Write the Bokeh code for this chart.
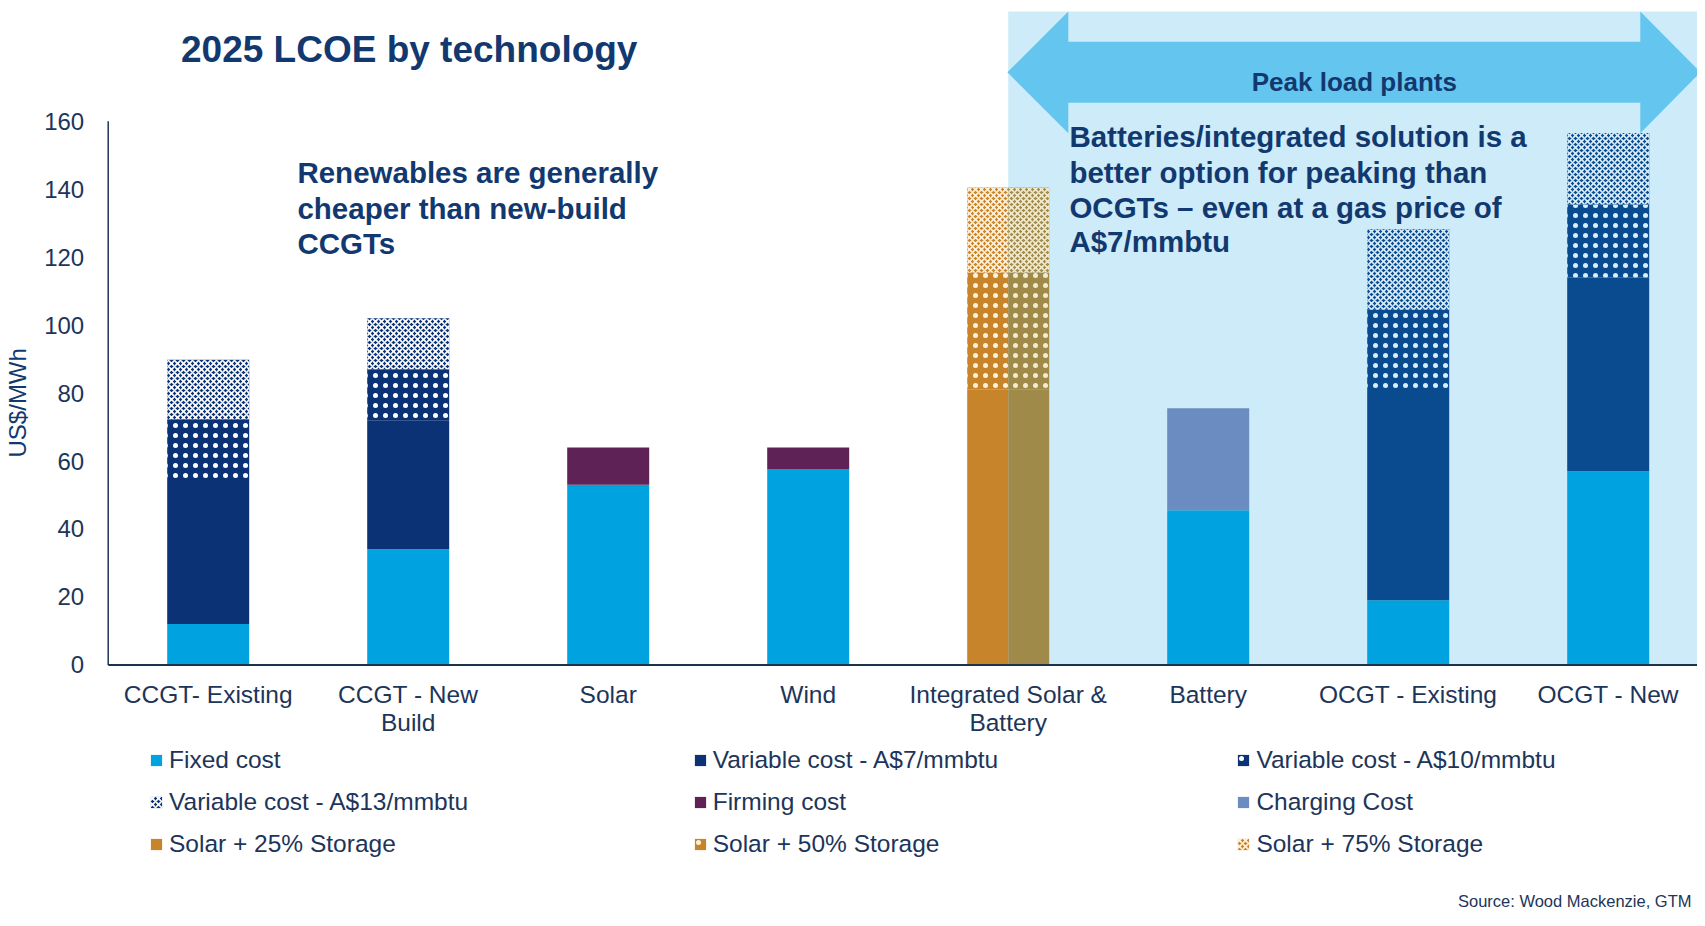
import numpy as np
from bokeh.plotting import figure
from bokeh.models import ColumnDataSource, Range1d, FixedTicker, Label, Legend, LegendItem
from bokeh.core.properties import value
from bokeh.embed import file_html
from bokeh.resources import INLINE

# ---------------- data ----------------
categories = ["CCGT- Existing", "CCGT - New\nBuild", "Solar", "Wind",
              "Integrated Solar &\nBattery", "Battery", "OCGT - Existing", "OCGT - New"]
fixed_cost = [12, 34, 53, 57.5, 0, 45.5, 19, 57]
var_7 = [43, 38, 0, 0, 0, 0, 62.5, 57]
var_10 = [17.3, 15, 0, 0, 0, 0, 23, 21.5]
var_13 = [17.5, 15, 0, 0, 0, 0, 23.7, 21]
firming = [0, 0, 11, 6.5, 0, 0, 0, 0]
charging = [0, 0, 0, 0, 0, 30, 0, 0]
solar_25 = [0, 0, 0, 0, 81, 0, 0, 0]
solar_50 = [0, 0, 0, 0, 34.5, 0, 0, 0]
solar_75 = [0, 0, 0, 0, 25, 0, 0, 0]
y_ticks = [0, 20, 40, 60, 80, 100, 120, 140, 160]
peak_first = 4   # index of the category where the "peak load plants" panel starts

NAVY_TXT = "#12396F"
AX_TXT = "#1D3559"
FONT = "Liberation Sans"

# name, values, colour outside panel, colour inside panel, hatch, hatch colour out/in
series = [
    ("Fixed cost", fixed_cost, "#00A3E0", "#00A3E0", None, None, None),
    ("Variable cost - A$7/mmbtu", var_7, "#0A3275", "#0A4A8E", None, None, None),
    ("Variable cost - A$10/mmbtu", var_10, "#0A3275", "#0A4A8E", "dot", "#FFFFFF", "#D8EEFA"),
    ("Variable cost - A$13/mmbtu", var_13, "#0A3275", "#0A4A8E", "diagonal_cross", "#FFFFFF", "#D8EEFA"),
    ("Firming cost", firming, "#5E2257", "#5E2257", None, None, None),
    ("Charging Cost", charging, "#6A8CC0", "#6A8CC0", None, None, None),
    ("Solar + 25% Storage", solar_25, "#C8842A", "#A08A4A", None, None, None),
    ("Solar + 50% Storage", solar_50, "#C8842A", "#A08A4A", "dot", "#FFF2D8", "#F2EBD0"),
    ("Solar + 75% Storage", solar_75, "#C8842A", "#A08A4A", "diagonal_cross", "#FFF2D8", "#F2EBD0"),
]
legend_cols = [
    ["Fixed cost", "Variable cost - A$13/mmbtu", "Solar + 25% Storage"],
    ["Variable cost - A$7/mmbtu", "Firming cost", "Solar + 50% Storage"],
    ["Variable cost - A$10/mmbtu", "Charging Cost", "Solar + 75% Storage"],
]

# ---------------- geometry (frame covers the whole canvas) ----------------
W, H = 1697, 912
n = len(categories)
PXX = 200.0                    # px per category
AX_X = 107.7                   # px position of the y axis (x = -0.5)
X0 = -0.5 - AX_X / PXX
X1 = X0 + W / PXX
PXY = 3.398                    # px per US$/MWh
AX_Y = 664.4                   # px position of y = 0 (from top)
Y1 = AX_Y / PXY
Y0 = -(H - AX_Y) / PXY
BAR_W = 0.41


def dx(px):
    return X0 + px / PXX


def dy(py):
    return (AX_Y - py) / PXY


p = figure(width=W, height=H, x_range=Range1d(X0, X1), y_range=Range1d(Y0, Y1),
           output_backend="svg", toolbar_location=None,
           min_border_left=0, min_border_right=0, min_border_top=0, min_border_bottom=0)
p.outline_line_color = None
p.grid.visible = False
p.background_fill_color = "white"
p.xaxis.visible = False

# peak load panel
BOX_TOP = dy(10.9)
p.quad(left=[peak_first], right=[X1], bottom=[0], top=[BOX_TOP],
       fill_color="#CDEBF8", line_color=None)

# double arrow (annotation shape)
a_tipL, a_baseL, a_baseR, a_tipR = dx(1006.9), dx(1067.8), dx(1639.8), dx(1700)
a_mid, a_st, a_sb, a_ht, a_hb = dy(71.8), dy(41.3), dy(102.2), BOX_TOP, dy(132.7)
p.patch([a_tipL, a_baseL, a_baseL, a_baseR, a_baseR, a_tipR, a_baseR, a_baseR, a_baseL, a_baseL],
        [a_mid, a_ht, a_st, a_st, a_ht, a_mid, a_hb, a_sb, a_sb, a_hb],
        fill_color="#64C6EF", line_color=None)

# stacked bars
base = np.zeros(n)
renderers = {}
for name, vals, c_out, c_in, hatch, h_out, h_in in series:
    vals = np.array(vals, dtype=float)
    out = dict(x=[], w=[], b=[], t=[])
    inn = dict(x=[], w=[], b=[], t=[])
    for i in range(n):
        if vals[i] <= 0:
            continue
        b, t = base[i], base[i] + vals[i]
        if i == peak_first:
            out["x"].append(i - BAR_W / 4); out["w"].append(BAR_W / 2); out["b"].append(b); out["t"].append(t)
            inn["x"].append(i + BAR_W / 4); inn["w"].append(BAR_W / 2); inn["b"].append(b); inn["t"].append(t)
        elif i > peak_first:
            inn["x"].append(i); inn["w"].append(BAR_W); inn["b"].append(b); inn["t"].append(t)
        else:
            out["x"].append(i); out["w"].append(BAR_W); out["b"].append(b); out["t"].append(t)
    base = base + vals
    kw_out = dict(fill_color=c_out, line_color=None)
    kw_in = dict(fill_color=c_in, line_color=None)
    if hatch:
        hs = dict(hatch_pattern=hatch, hatch_scale=10 if hatch == "dot" else 6,
                  hatch_weight=1.5 if hatch == "dot" else 1.6)
        kw_out.update(hatch_color=h_out, **hs)
        kw_in.update(hatch_color=h_in, **hs)
    r_out = p.vbar(x="x", width="w", bottom="b", top="t", source=ColumnDataSource(out), **kw_out)
    r_in = p.vbar(x="x", width="w", bottom="b", top="t", source=ColumnDataSource(inn), **kw_in)
    renderers[name] = r_out if out["x"] else r_in

# axis lines
p.segment(x0=[-0.5], y0=[0], x1=[-0.5], y1=[y_ticks[-1]], line_color="#1D3559", line_width=1.5)
p.segment(x0=[-0.5], y0=[0], x1=[X1], y1=[0], line_color="#1C3350", line_width=2)

# y axis (tick labels) pinned at x = -0.5
p.yaxis.fixed_location = -0.5
p.yaxis.ticker = FixedTicker(ticks=y_ticks)
p.yaxis.axis_line_color = None
p.yaxis.major_tick_line_color = None
p.yaxis.minor_tick_line_color = None
p.yaxis.major_label_text_font = FONT
p.yaxis.major_label_text_font_size = "24px"
p.yaxis.major_label_text_color = AX_TXT
p.yaxis.major_label_standoff = 18

# category labels (two lines where needed)
line1 = [c.split("\n")[0] for c in categories]
line2 = [c.split("\n")[1] if "\n" in c else "" for c in categories]
cat_src = ColumnDataSource(dict(x=list(range(n)), l1=line1, l2=line2,
                                y1=[dy(693.8)] * n, y2=[dy(722.0)] * n))
p.text(x="x", y="y1", text="l1", source=cat_src, text_font=value(FONT), text_font_size="24.5px",
       text_color=AX_TXT, text_align="center", text_baseline="middle")
p.text(x="x", y="y2", text="l2", source=cat_src, text_font=value(FONT), text_font_size="24.5px",
       text_color=AX_TXT, text_align="center", text_baseline="middle")


# texts
def lab(txt, px, py, size, bold=True, align="left", color=NAVY_TXT, angle=0):
    p.add_layout(Label(x=dx(px), y=dy(py), text=txt, text_font=FONT,
                       text_font_style="bold" if bold else "normal", text_font_size=size,
                       text_color=color, text_align=align, text_baseline="middle", angle=angle))


lab("2025 LCOE by technology", 180.5, 48.9, "37px")
for t, py in zip(["Renewables are generally", "cheaper than new-build", "CCGTs"],
                 [171.8, 207.7, 242.5]):
    lab(t, 296.9, py, "29.5px")
for t, py in zip(["Batteries/integrated solution is a", "better option for peaking than",
                  "OCGTs \u2013 even at a gas price of", "A$7/mmbtu"],
                 [135.9, 171.8, 206.6, 241.4]):
    lab(t, 1068.9, py, "29.5px")
lab("Peak load plants", 1353.8, 81.6, "26px", align="center")
lab("US$/MWh", 16.5, 402.3, "24px", bold=False, align="center", angle=np.pi / 2)
lab("Source: Wood Mackenzie, GTM", 1691, 900.4, "16.5px", bold=False, align="right", color=AX_TXT)

# legends (three columns)
for col, x_off in zip(legend_cols, [149, 692.7, 1236.4]):
    items = [LegendItem(label=nm, renderers=[renderers[nm]]) for nm in col]
    lg = Legend(items=items, location=(x_off, H - 857.6), orientation="vertical",
                padding=0, margin=0, spacing=14, glyph_width=14, glyph_height=14,
                label_standoff=6, label_text_font=FONT, label_text_font_size="24.5px",
                label_text_color=AX_TXT, border_line_color=None, background_fill_alpha=0)
    p.add_layout(lg, "center")

open("out.html", "w").write(file_html(p, INLINE))
